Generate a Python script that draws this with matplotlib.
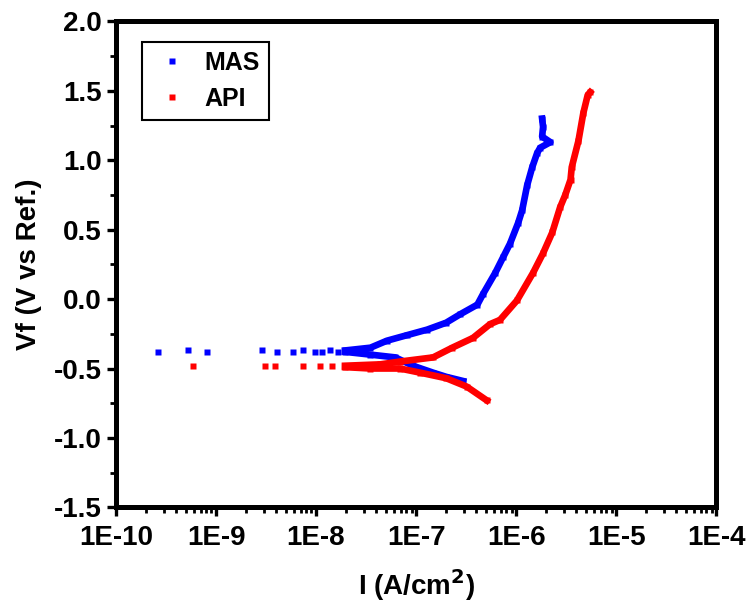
import matplotlib.pyplot as plt
from matplotlib.lines import Line2D
from matplotlib.ticker import FixedLocator, LogLocator, NullFormatter

# MAS (blue) - sparse points near Ecorr
mas_sparse_i = [2.6e-10, 5.2e-10, 8.1e-10, 2.9e-9, 4.1e-9, 5.9e-9, 7.4e-9,
                9.8e-9, 1.15e-8, 1.38e-8, 1.66e-8]
mas_sparse_v = [-0.38, -0.37, -0.38, -0.37, -0.38, -0.38, -0.37,
                -0.38, -0.38, -0.37, -0.38]
# MAS cathodic branch
mas_cat_i = [1.95e-8, 3.5e-8, 6.2e-8, 9.3e-8, 1.48e-7, 2.0e-7, 2.95e-7]
mas_cat_v = [-0.38, -0.40, -0.42, -0.48, -0.53, -0.56, -0.59]
# MAS anodic branch
mas_an_i = [1.95e-8, 3.5e-8, 5.1e-8, 8.1e-8, 1.29e-7, 2.0e-7, 2.75e-7, 4.1e-7,
            4.7e-7, 6.2e-7, 7.4e-7, 8.7e-7, 1.05e-6, 1.15e-6, 1.29e-6, 1.45e-6,
            1.62e-6, 1.74e-6, 2.2e-6, 1.82e-6, 1.86e-6, 1.82e-6]
mas_an_v = [-0.37, -0.35, -0.30, -0.26, -0.22, -0.17, -0.11, -0.04,
            0.04, 0.19, 0.30, 0.40, 0.55, 0.64, 0.82, 0.95,
            1.05, 1.09, 1.13, 1.17, 1.24, 1.30]

# API (red) - sparse points near Ecorr
api_sparse_i = [5.9e-10, 3.1e-9, 3.9e-9, 7.4e-9, 1.1e-8, 1.45e-8]
api_sparse_v = [-0.48, -0.48, -0.48, -0.48, -0.48, -0.48]
# API cathodic branch
api_cat_i = [1.95e-8, 3.5e-8, 6.9e-8, 1.1e-7, 2.0e-7, 3.2e-7, 5.1e-7]
api_cat_v = [-0.49, -0.50, -0.50, -0.53, -0.57, -0.63, -0.73]
# API anodic branch
api_an_i = [1.95e-8, 4.4e-8, 6.9e-8, 1.48e-7, 2.3e-7, 3.7e-7, 5.5e-7, 6.9e-7,
            1.02e-6, 1.48e-6, 1.86e-6, 2.3e-6, 2.75e-6, 3.1e-6, 3.5e-6, 3.6e-6,
            4.2e-6, 4.7e-6, 5.2e-6, 5.5e-6]
api_an_v = [-0.48, -0.47, -0.45, -0.42, -0.35, -0.28, -0.18, -0.15,
            -0.01, 0.19, 0.33, 0.48, 0.66, 0.75, 0.86, 0.95,
            1.14, 1.34, 1.47, 1.49]

x_ticks = [1e-10, 1e-9, 1e-8, 1e-7, 1e-6, 1e-5, 1e-4]
x_labels = ["1E-10", "1E-9", "1E-8", "1E-7", "1E-6", "1E-5", "1E-4"]
y_ticks = [-1.5, -1.0, -0.5, 0.0, 0.5, 1.0, 1.5, 2.0]


def main():
    plt.rcParams["font.family"] = ["Liberation Sans", "DejaVu Sans"]
    plt.rcParams["font.weight"] = "bold"
    plt.rcParams["mathtext.default"] = "bf"

    fig = plt.figure(figsize=(7.46, 6.04), dpi=100)
    ax = fig.add_axes([0.1555, 0.160, 0.8045, 0.8046])

    blue = "#0000ff"
    red = "#ff0000"
    ms = 4.5
    lw = 4.8

    ax.plot(mas_sparse_i, mas_sparse_v, "s", color=blue, ms=ms, mec="none")
    ax.plot(mas_cat_i, mas_cat_v, "-s", color=blue, ms=ms, lw=lw, mec="none")
    ax.plot(mas_an_i, mas_an_v, "-s", color=blue, ms=ms, lw=lw, mec="none")

    ax.plot(api_sparse_i, api_sparse_v, "s", color=red, ms=ms, mec="none")
    ax.plot(api_cat_i, api_cat_v, "-s", color=red, ms=ms, lw=lw, mec="none")
    ax.plot(api_an_i, api_an_v, "-s", color=red, ms=ms, lw=lw, mec="none")

    ax.set_xscale("log")
    ax.set_xlim(1e-10, 1e-4)
    ax.set_ylim(-1.5, 2.0)
    ax.set_xticks(x_ticks)
    ax.set_xticklabels(x_labels)
    ax.xaxis.set_minor_locator(LogLocator(base=10, subs=range(2, 10), numticks=20))
    ax.xaxis.set_minor_formatter(NullFormatter())
    ax.set_yticks(y_ticks)
    ax.set_yticklabels(["%.1f" % v for v in y_ticks])
    ax.yaxis.set_minor_locator(FixedLocator([-1.25, -0.75, -0.25, 0.25, 0.75, 1.25, 1.75]))

    for sp in ax.spines.values():
        sp.set_linewidth(3.6)
    ax.tick_params(which="major", direction="out", length=6.5, width=2.4,
                   labelsize=20, top=False, right=False)
    ax.tick_params(axis="x", which="major", pad=6)
    ax.tick_params(axis="y", which="major", pad=4)
    ax.tick_params(which="minor", direction="out", length=4, width=2.0,
                   top=False, right=False)
    for lab in ax.get_xticklabels() + ax.get_yticklabels():
        lab.set_fontweight("bold")

    ax.set_xlabel("I (A/cm$^{2}$)", fontsize=20, fontweight="bold", labelpad=12)
    ax.set_ylabel("Vf (V vs Ref.)", fontsize=20, fontweight="bold", labelpad=8)

    handles = [
        Line2D([], [], ls="none", marker="s", color=blue, ms=ms, mec="none"),
        Line2D([], [], ls="none", marker="s", color=red, ms=ms, mec="none"),
    ]
    leg = ax.legend(handles, ["MAS", "API"], loc="upper left",
                    bbox_to_anchor=(0.043, 0.958), fancybox=False,
                    edgecolor="black", framealpha=1,
                    prop={"weight": "bold", "size": 18},
                    handlelength=1.7, handletextpad=0.46, borderpad=0.35,
                    labelspacing=0.5, borderaxespad=0)
    leg.get_frame().set_linewidth(1.5)

    fig.savefig("out.png", dpi=100)


if __name__ == "__main__":
    main()
